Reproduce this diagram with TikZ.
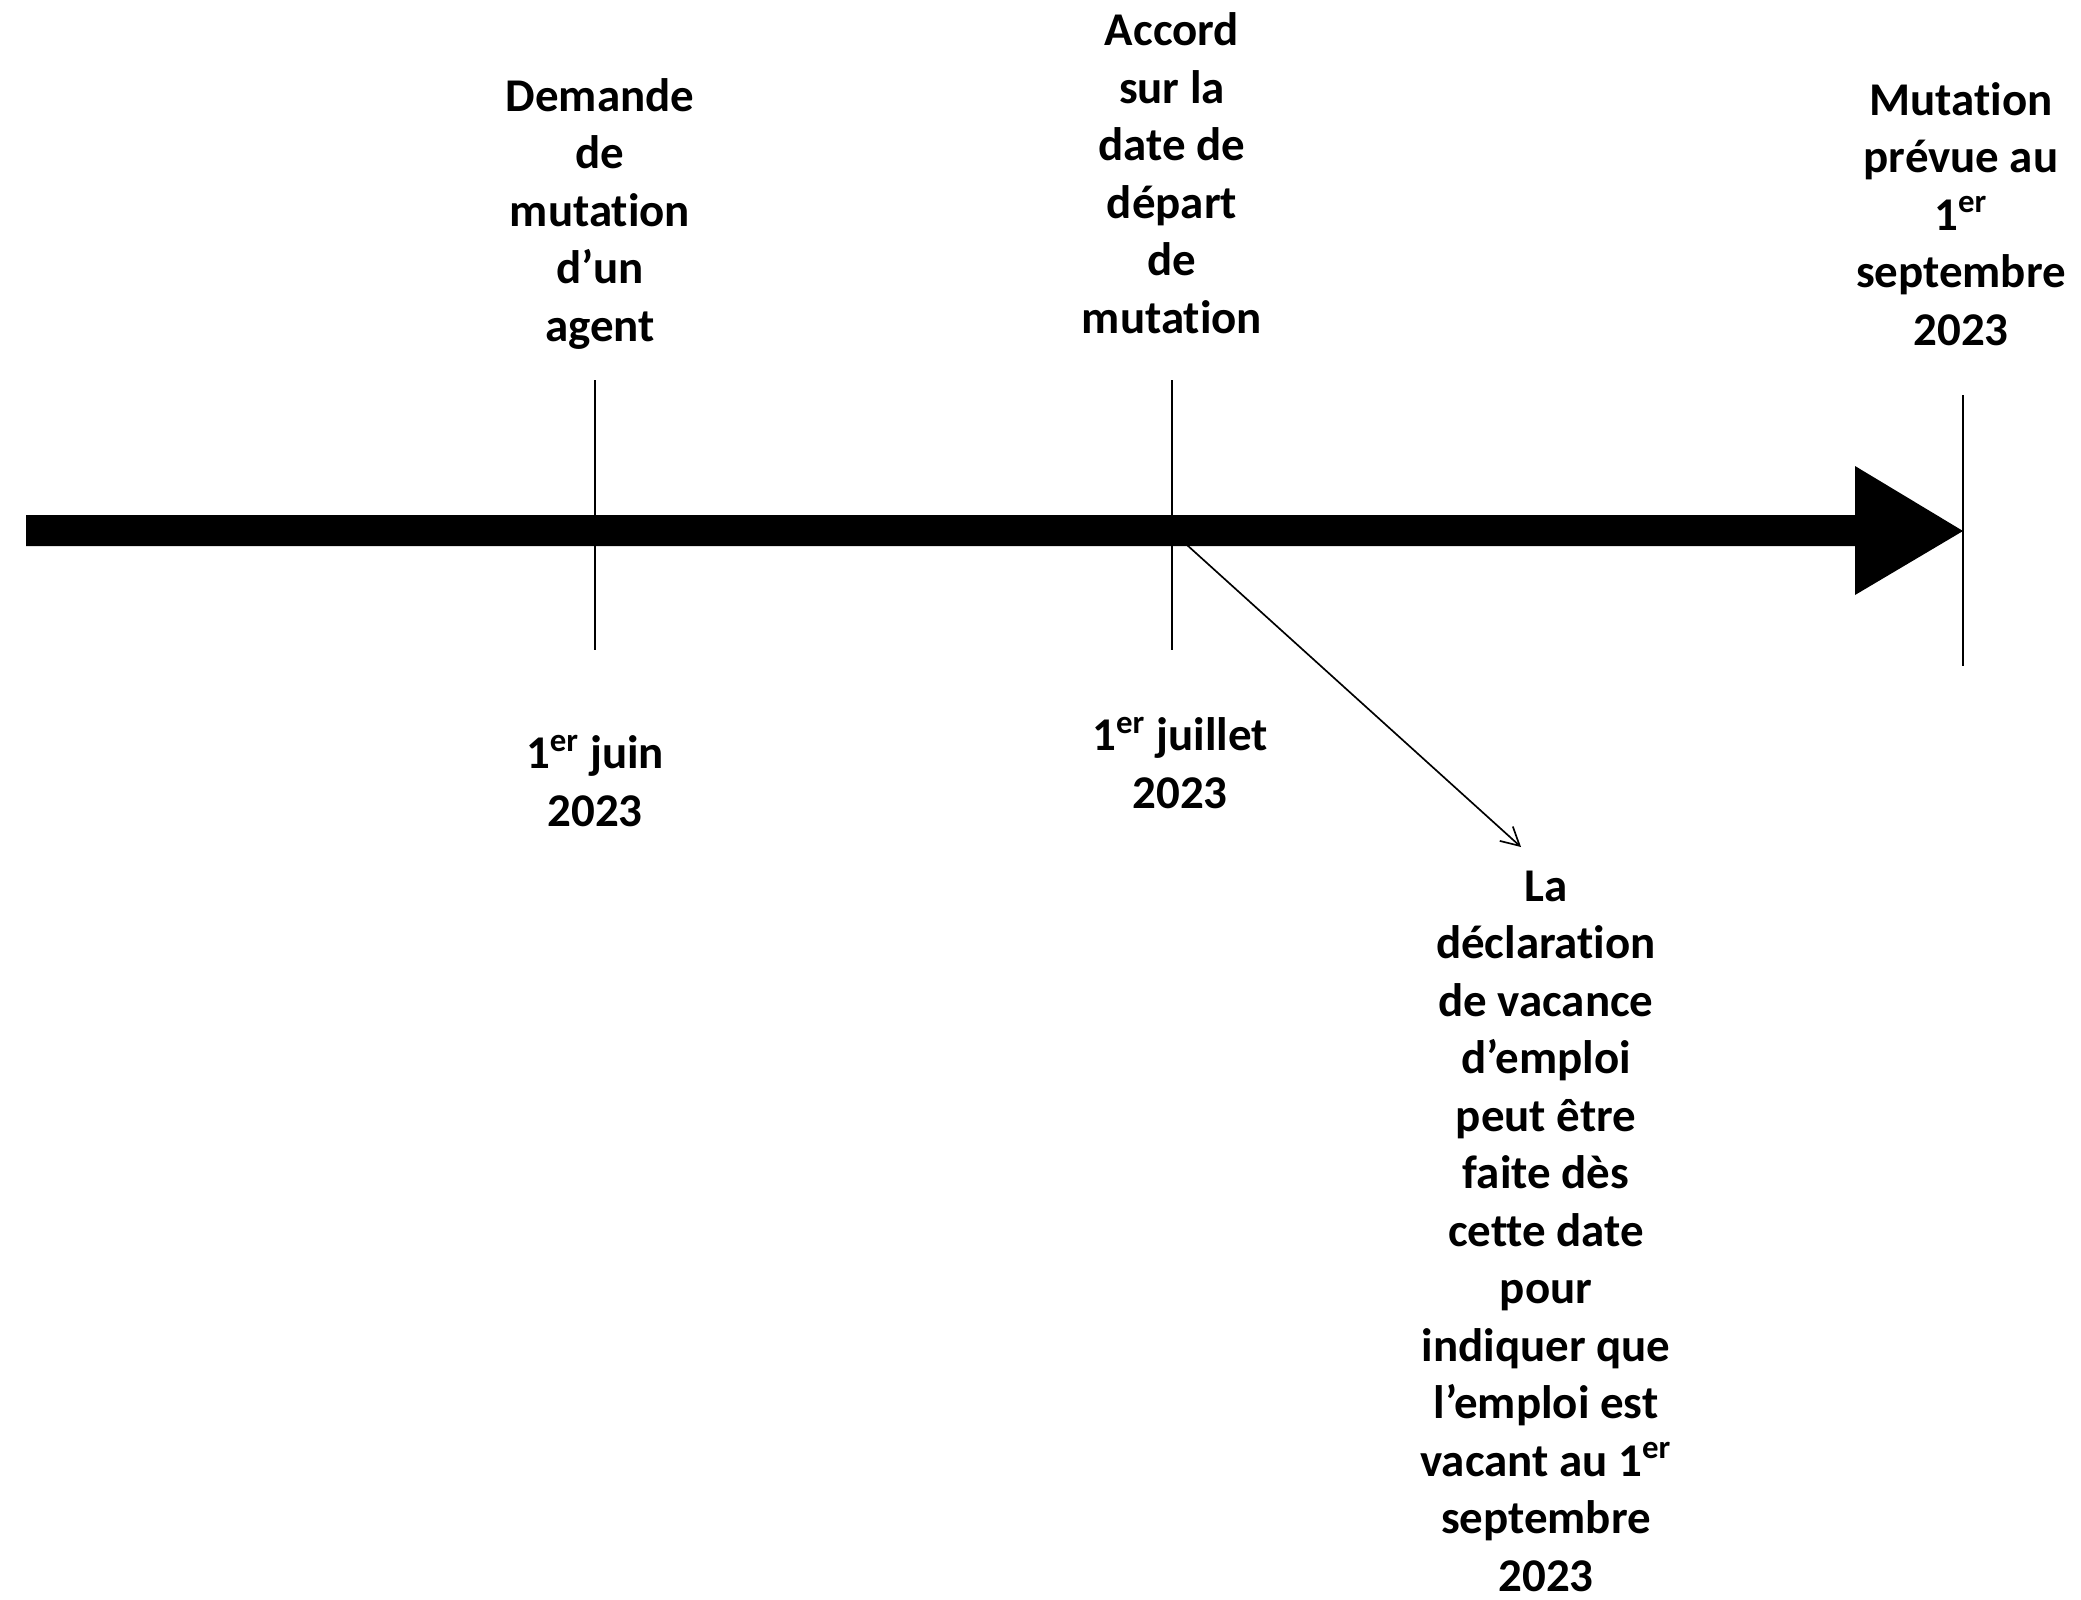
\documentclass[tikz,border=0pt]{standalone}
\usepackage{fontspec}
\setmainfont{Carlito}[Ligatures={NoCommon}]
\usetikzlibrary{arrows.meta}
\begin{document}
\begin{tikzpicture}[x=0.36pt,y=-0.36pt,
  lbl/.style={font=\bfseries\fontsize{16.9}{20.7}\selectfont, align=center, inner sep=0pt},
  tickline/.style={line width=0.75pt},
  pointer/.style={line width=0.6pt, -{Straight Barb[length=6.5pt,width=7pt]}}]
\useasboundingbox (0,0) rectangle (2081,1599);
% main timeline arrow
\fill (26,515) -- (1855,515) -- (1855,466) -- (1963,531) -- (1855,595) -- (1855,546) -- (26,546) -- cycle;
% ticks
\coordinate (t1a) at (595,380); \coordinate (t1b) at (595,650);
\coordinate (t2a) at (1172,380); \coordinate (t2b) at (1172,650);
\coordinate (t3a) at (1963,395); \coordinate (t3b) at (1963,666);
\draw[tickline] (t1a) -- (t1b);
\draw[tickline] (t2a) -- (t2b);
\draw[tickline] (t3a) -- (t3b);
% labels above
\node[lbl] (top1) at (600,214) {Demande\\de\\mutation\\d’un\\agent};
\node[lbl] (top2) at (1172,173) {Accord\\sur la\\date de\\départ\\de\\mutation};
\node[lbl] (top3) at (1961,214) {Mutation\\prévue au\\1\textsuperscript{er}\\septembre\\2023};
% labels below
\node[lbl] (bot1) at (595,781) {1\textsuperscript{er} juin\\2023};
\node[lbl] (bot2) at (1180,763) {1\textsuperscript{er} juillet\\2023};
\node[lbl] (bot3) at (1546,1231) {La\\déclaration\\de vacance\\d’emploi\\peut être\\faite dès\\cette date\\pour\\indiquer que\\l’emploi est\\vacant au 1\textsuperscript{er}\\septembre\\2023};
% diagonal pointer
\coordinate (d0) at (1187,545);
\coordinate (d1) at (1521,847);
\draw[pointer] (d0) -- (d1);
\end{tikzpicture}
\end{document}
